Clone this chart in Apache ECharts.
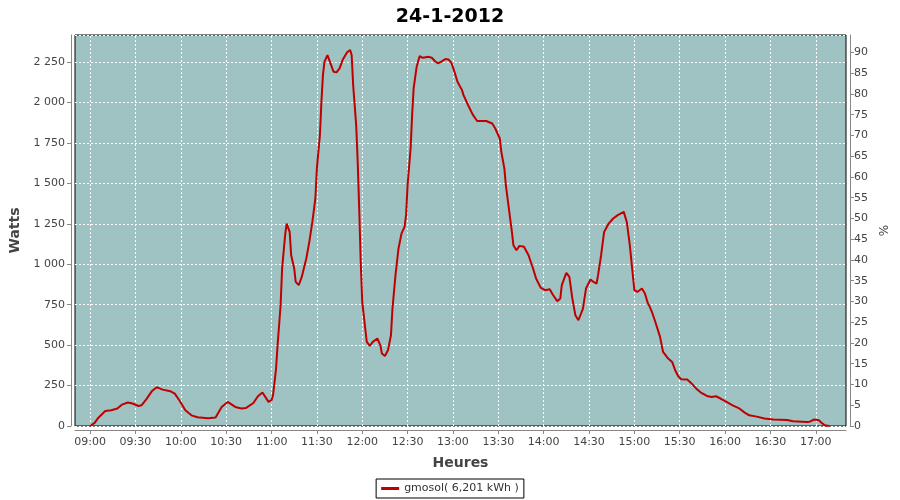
<!DOCTYPE html>
<html><head><meta charset="utf-8">
<script src="https://cdn.jsdelivr.net/npm/echarts@6/dist/echarts.min.js"></script>
<style>html,body{margin:0;padding:0;background:#fff}#c{width:900px;height:500px}</style>
</head><body><div id="c"></div>
<script>
const chartTitle = '24-1-2012';
const seriesName = 'gmosol( 6,201 kWh )';
const times = ['09:00','09:03','09:05','09:10','09:14','09:18','09:21','09:25','09:28','09:32','09:34','09:37','09:41','09:44','09:48','09:53','09:56','09:59','10:03','10:07','10:11','10:18','10:23','10:27','10:31','10:36','10:40','10:43','10:48','10:51','10:54','10:58','11:00','11:01','11:03','11:04','11:06','11:07','11:09','11:10','11:12','11:13','11:15','11:16','11:18','11:20','11:23','11:25','11:27','11:29','11:30','11:32','11:33','11:34','11:35','11:37','11:39','11:41','11:43','11:45','11:47','11:50','11:52','11:53','11:54','11:56','11:57','11:58','11:59','12:00','12:02','12:03','12:05','12:07','12:10','12:12','12:13','12:15','12:17','12:19','12:20','12:22','12:24','12:26','12:28','12:29','12:30','12:32','12:33','12:34','12:36','12:38','12:40','12:44','12:46','12:48','12:50','12:52','12:55','12:57','12:59','13:01','13:03','13:06','13:07','13:09','13:10','13:13','13:16','13:22','13:26','13:28','13:31','13:32','13:34','13:35','13:37','13:39','13:40','13:42','13:44','13:47','13:50','13:53','13:55','13:58','14:01','14:04','14:06','14:09','14:11','14:12','14:15','14:17','14:19','14:21','14:23','14:26','14:28','14:31','14:33','14:35','14:36','14:38','14:40','14:43','14:46','14:49','14:53','14:55','14:57','14:59','15:00','15:02','15:05','15:07','15:09','15:10','15:12','15:14','15:17','15:19','15:22','15:25','15:27','15:29','15:31','15:35','15:38','15:41','15:44','15:48','15:51','15:54','15:57','16:01','16:05','16:09','16:13','16:16','16:21','16:26','16:32','16:41','16:45','16:54','16:56','16:59','17:02','17:04','17:06','17:09'];
const watts = [0,19,46,93,97,108,132,145,139,124,128,163,217,240,225,215,200,159,97,66,54,48,52,118,149,118,108,111,142,184,207,149,160,190,355,499,747,974,1180,1252,1200,1056,974,891,871,922,1036,1139,1262,1407,1593,1799,2005,2170,2252,2294,2243,2191,2187,2212,2263,2311,2325,2294,2108,1861,1634,1345,1015,767,603,520,495,520,541,499,448,433,468,561,726,933,1098,1191,1231,1304,1490,1717,1923,2088,2222,2288,2277,2283,2277,2257,2243,2252,2269,2267,2246,2191,2129,2077,2046,2005,1985,1927,1886,1886,1871,1840,1778,1696,1593,1490,1345,1200,1118,1087,1114,1108,1056,974,912,856,840,846,813,772,788,871,947,922,788,685,654,726,850,906,891,881,933,1056,1200,1252,1283,1304,1324,1262,1118,933,840,829,850,819,757,741,696,640,551,458,421,396,345,308,289,287,262,231,207,186,179,184,170,149,128,111,83,66,58,46,40,37,29,25,27,40,35,19,4,0];
const xTickLabels = ['09:00','09:30','10:00','10:30','11:00','11:30','12:00','12:30','13:00','13:30','14:00','14:30','15:00','15:30','16:00','16:30','17:00'];
const xStart = '08:50', xEnd = '17:20';
const wattsMax = 2418, pctMax = 94.2;
const yAxisName = 'Watts', y2AxisName = '%', xAxisName = 'Heures';

// minutes since midnight
function mins(hm){const p=hm.split(':');return (+p[0])*60+(+p[1]);}
const data = times.map((t,i)=>[mins(t), watts[i]]);
const xTicks = xTickLabels.map(mins);
const pad = n => (n<10?'0':'')+n;
const fmtMin = v => pad(Math.floor(v/60))+':'+pad(Math.round(v%60));
const font = '"DejaVu Sans", sans-serif';

const chart = echarts.init(document.getElementById('c'));
chart.setOption({
  animation:false,
  title:{text:chartTitle,left:'center',top:3,textStyle:{fontFamily:font,fontSize:19,fontWeight:'bold',color:'#000'}},
  grid:{left:75,right:54,top:35,bottom:74,show:true,backgroundColor:'#9fc3c2',borderColor:'#000',borderWidth:1},
  legend:{bottom:2,left:'center',data:[seriesName],borderColor:'#000',borderWidth:1,padding:[4,5,4,5],itemGap:5,
    itemWidth:18,itemHeight:3,icon:'rect',textStyle:{fontFamily:font,fontSize:11,color:'#333'}},
  xAxis:{type:'value',min:mins(xStart),max:mins(xEnd),offset:4,
    name:xAxisName,nameLocation:'middle',nameGap:26,nameTextStyle:{fontFamily:font,fontSize:14,fontWeight:'bold',color:'#444'},
    axisLine:{show:true,onZero:false,lineStyle:{color:'#888'}},axisTick:{show:true,length:4,lineStyle:{color:'#888'},customValues:xTicks},
    axisLabel:{fontFamily:font,fontSize:11,color:'#444',margin:7,customValues:xTicks,formatter:fmtMin},
    splitLine:{show:false}},
  yAxis:[
    {type:'value',min:0,max:wattsMax,interval:250,offset:4,position:'left',
      name:yAxisName,nameLocation:'middle',nameGap:48,nameTextStyle:{fontFamily:font,fontSize:14,fontWeight:'bold',color:'#444'},
      axisLine:{show:true,lineStyle:{color:'#888'}},axisTick:{show:true,length:4,lineStyle:{color:'#888'}},
      axisLabel:{fontFamily:font,fontSize:11,color:'#444',margin:6,showMaxLabel:false,
        formatter:v=>String(v).replace(/\B(?=(\d{3})+(?!\d))/g,' ')},
      splitLine:{show:true,lineStyle:{color:'#fff',type:[2,2],width:1}}},
    {type:'value',min:0,max:pctMax,interval:5,offset:4,position:'right',
      name:y2AxisName,nameLocation:'middle',nameGap:24,nameTextStyle:{fontFamily:font,fontSize:12,color:'#444'},
      axisLine:{show:true,lineStyle:{color:'#888'}},axisTick:{show:true,length:4,lineStyle:{color:'#888'}},
      axisLabel:{fontFamily:font,fontSize:11,color:'#444',margin:4,showMaxLabel:false},
      splitLine:{show:false}}
  ],
  series:[
    {name:'grid',type:'line',data:[],z:1,silent:true,
      markLine:{silent:true,z:1,zlevel:0,symbol:'none',label:{show:false},animation:false,
        lineStyle:{color:'#fff',type:[2,2],width:1},emphasis:{disabled:true},
        data:xTicks.map(v=>({xAxis:v}))}},
    {name:seriesName,type:'line',data:data,showSymbol:false,smooth:false,z:10,
      lineStyle:{color:'#c00000',width:2},itemStyle:{color:'#c00000'}}
  ]
});
</script></body></html>
